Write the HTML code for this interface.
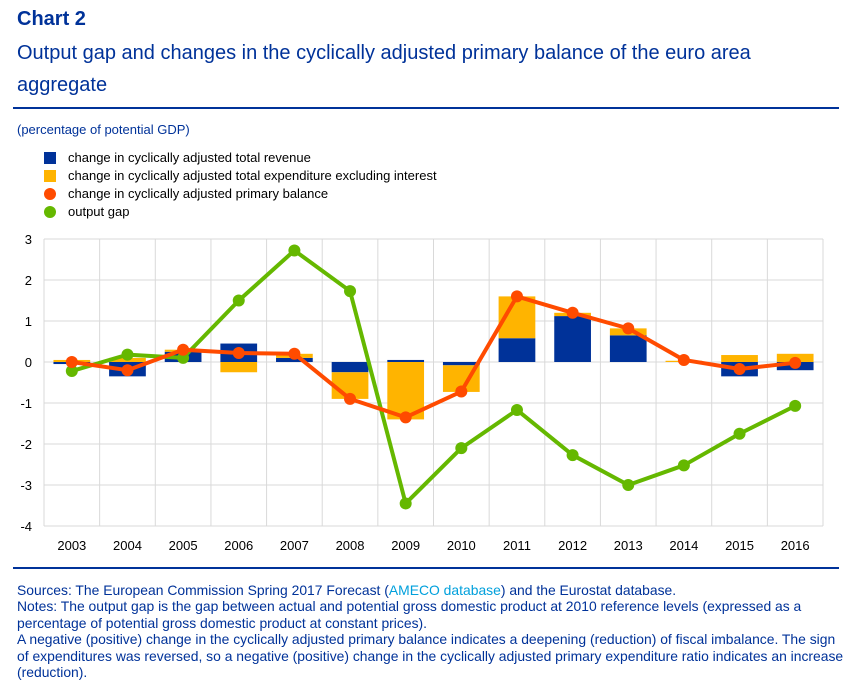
<!DOCTYPE html>
<html><head><meta charset="utf-8"><style>
body{margin:0;width:865px;height:694px;background:#fff;font-family:"Liberation Sans",Arial,sans-serif;color:#003299;position:relative;overflow:hidden}
.a{position:absolute;white-space:nowrap}
</style></head><body>
<div class="a" style="left:17px;top:8px;font-size:20px;font-weight:bold">Chart 2</div>
<div class="a" style="left:17px;top:37px;font-size:20px;line-height:32px">Output gap and changes in the cyclically adjusted primary balance of the euro area<br>aggregate</div>
<div class="a" style="left:13px;top:107px;width:826px;height:2px;background:#003299"></div>
<div class="a" style="left:17px;top:122px;font-size:13px">(percentage of potential GDP)</div>
<div>
<div class="a" style="left:44px;top:150px;font-size:13px;color:#000"><span style="display:inline-block;width:12px;height:12px;background:#003299;vertical-align:-2px;margin-right:12px"></span>change in cyclically adjusted total revenue</div>
<div class="a" style="left:44px;top:168px;font-size:13px;color:#000"><span style="display:inline-block;width:12px;height:12px;background:#FFB400;vertical-align:-2px;margin-right:12px"></span>change in cyclically adjusted total expenditure excluding interest</div>
<div class="a" style="left:44px;top:186px;font-size:13px;color:#000"><span style="display:inline-block;width:12px;height:12px;border-radius:6px;background:#FF4B00;vertical-align:-2px;margin-right:12px"></span>change in cyclically adjusted primary balance</div>
<div class="a" style="left:44px;top:204px;font-size:13px;color:#000"><span style="display:inline-block;width:12px;height:12px;border-radius:6px;background:#65B800;vertical-align:-2px;margin-right:12px"></span>output gap</div>
</div>
<svg id="chart" class="a" style="left:0;top:0" width="865" height="694"></svg>
<div class="a" style="left:13px;top:567px;width:826px;height:2px;background:#003299"></div>
<div class="a" style="left:17px;top:582px;font-size:13.9px;line-height:16.4px">Sources: The European Commission Spring 2017 Forecast (<span style="color:#00a0dc">AMECO database</span>) and the Eurostat database.<br>Notes: The output gap is the gap between actual and potential gross domestic product at 2010 reference levels (expressed as a<br>percentage of potential gross domestic product at constant prices).<br>A negative (positive) change in the cyclically adjusted primary balance indicates a deepening (reduction) of fiscal imbalance. The sign<br>of expenditures was reversed, so a negative (positive) change in the cyclically adjusted primary expenditure ratio indicates an increase<br>(reduction).</div>
<script>
const years=["2003","2004","2005","2006","2007","2008","2009","2010","2011","2012","2013","2014","2015","2016"];
const revenue=[-0.05,-0.35,0.25,0.45,0.1,-0.25,0.05,-0.08,0.58,1.12,0.65,0,-0.35,-0.2];
const expenditure=[0.05,0.1,0.05,-0.25,0.1,-0.65,-1.4,-0.65,1.02,0.08,0.17,0.03,0.17,0.2];
const primaryBalance=[0,-0.2,0.3,0.22,0.2,-0.9,-1.35,-0.72,1.6,1.2,0.82,0.05,-0.17,-0.02];
const outputGap=[-0.22,0.18,0.1,1.5,2.72,1.73,-3.45,-2.1,-1.17,-2.27,-3.0,-2.52,-1.75,-1.07];
const yTicks=[3,2,1,0,-1,-2,-3,-4];
const NS="http://www.w3.org/2000/svg";
const svg=document.getElementById('chart');
const L=44,R=823,T=239,B=526,yMax=3,yMin=-4;
const band=(R-L)/years.length;
const xC=i=>L+band*(i+0.5);
const yS=v=>T+(yMax-v)*(B-T)/(yMax-yMin);
function mk(t,a){const e=document.createElementNS(NS,t);for(const k in a)e.setAttribute(k,a[k]);svg.appendChild(e);return e;}
let e;
yTicks.forEach(v=>{
 e=mk('line',{x1:L,x2:R,y1:yS(v),y2:yS(v),stroke:'#d9d9d9','stroke-width':1});
 
 
 e=mk('text',{x:32,y:yS(v)+5,'text-anchor':'end','font-size':13,fill:'#000','font-family':'Liberation Sans, sans-serif'});
 e.textContent=v;
 
 
});
for(let i=0;i<=years.length;i++){
 e=mk('line',{x1:L+band*i,x2:L+band*i,y1:T,y2:B,stroke:'#d9d9d9','stroke-width':1});
 
 
}
years.forEach((y,i)=>{
 e=mk('text',{x:xC(i),y:550,'text-anchor':'middle','font-size':13,fill:'#000','font-family':'Liberation Sans, sans-serif'});
 e.textContent=y;
 
 
});
const bw=band*0.66;
years.forEach((y,i)=>{
 let pos=0,neg=0;
 [[revenue[i],'#003299','bar-revenue'],[expenditure[i],'#FFB400','bar-expenditure']].forEach(([v,c,n])=>{
  let y0,y1;
  if(v>=0){y0=pos;y1=pos+v;pos=y1;}else{y0=neg;y1=neg+v;neg=y1;}
  const top=yS(Math.max(y0,y1)),bot=yS(Math.min(y0,y1));
  e=mk('rect',{x:xC(i)-bw/2,y:top,width:bw,height:Math.max(bot-top,0),fill:c});
  
  
 });
});
function series(vals,c,n){
 e=mk('polyline',{points:vals.map((v,i)=>xC(i)+','+yS(v)).join(' '),fill:'none',stroke:c,'stroke-width':4,'stroke-linejoin':'round'});
 
 
 vals.forEach((v,i)=>{
  e=mk('circle',{cx:xC(i),cy:yS(v),r:6,fill:c});
  
  
 });
}
series(outputGap,'#65B800','output-gap');
series(primaryBalance,'#FF4B00','primary-balance');
</script>
</body></html>
